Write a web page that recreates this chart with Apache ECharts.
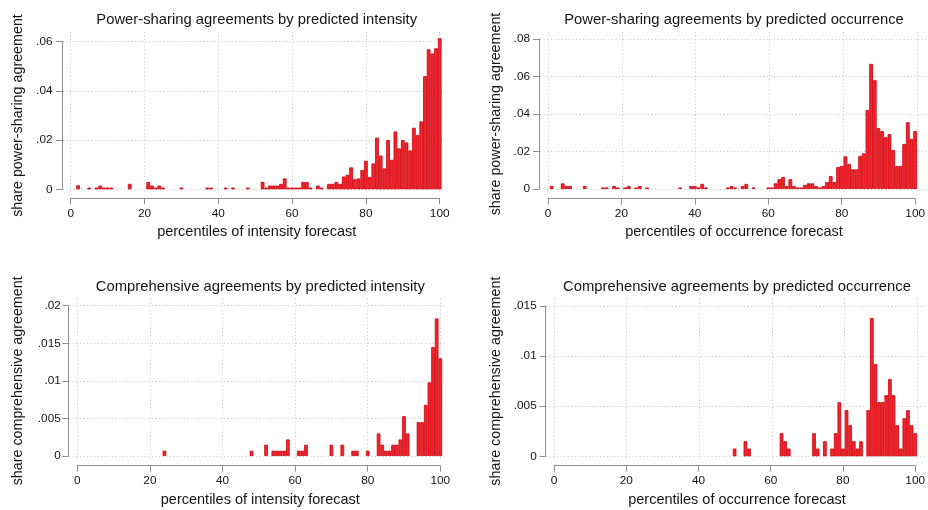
<!DOCTYPE html>
<html>
<head>
<meta charset="utf-8">
<script src="https://cdn.jsdelivr.net/npm/echarts@6/dist/echarts.min.js"></script>
<style>
  html, body { margin: 0; padding: 0; background: #ffffff; }
  #chart { width: 928px; height: 510px; }
</style>
</head>
<body>
<div id="chart"></div>
<script>
// ---- tick labels ----
const xTicks = [0, 20, 40, 60, 80, 100];
const yTicksPsInt = [0, 0.02, 0.04, 0.06];
const yTicksPsOcc = [0, 0.02, 0.04, 0.06, 0.08];
const yTicksCaInt = [0, 0.005, 0.01, 0.015, 0.02];
const yTicksCaOcc = [0, 0.005, 0.01, 0.015];

// ---- titles ----
const panelTitles = [
  'Power-sharing agreements by predicted intensity',
  'Power-sharing agreements by predicted occurrence',
  'Comprehensive agreements by predicted intensity',
  'Comprehensive agreements by predicted occurrence'
];
const xTitles = [
  'percentiles of intensity forecast',
  'percentiles of occurrence forecast',
  'percentiles of intensity forecast',
  'percentiles of occurrence forecast'
];
const yTitles = [
  'share power-sharing agreement',
  'share power-sharing agreement',
  'share comprehensive agreement',
  'share comprehensive agreement'
];

// ---- power-sharing agreements, by percentile of intensity forecast ----
const psIntPct = [2, 5, 7, 8, 9, 10, 11, 16, 21, 22, 23, 24, 25, 30, 37, 38, 42, 44, 48,
  52, 53, 54, 55, 56, 57, 58, 59, 60, 61, 62, 63, 64, 65, 67, 68, 70, 71, 72, 73, 74,
  75, 76, 77, 78, 79, 80, 81, 82, 83, 84, 85, 86, 87, 88, 89, 90, 91, 92, 93, 94, 95,
  96, 97, 98, 99, 100];
const psIntShare = [0.0016, 0.0007, 0.0007, 0.0015, 0.0007, 0.0007, 0.0007, 0.0022, 0.003,
  0.0015, 0.0007, 0.0015, 0.0007, 0.0007, 0.0007, 0.0007, 0.0007, 0.0007, 0.0007,
  0.003, 0.0007, 0.0015, 0.0015, 0.0015, 0.0022, 0.0044, 0.0007, 0.0007, 0.0007, 0.0007,
  0.003, 0.003, 0.0007, 0.0015, 0.0007, 0.0022, 0.0022, 0.003, 0.0022, 0.0052,
  0.0059, 0.0089, 0.0041, 0.0044, 0.0078, 0.0116, 0.005, 0.0105, 0.021, 0.0137, 0.0085,
  0.020, 0.012, 0.0235, 0.0166, 0.020, 0.019, 0.0158, 0.025, 0.022, 0.0276,
  0.046, 0.0569, 0.0552, 0.0573, 0.0614];

// ---- power-sharing agreements, by percentile of occurrence forecast ----
const psOccPct = [1, 4, 5, 6, 10, 15, 16, 18, 19, 21, 22, 24, 25, 27, 36, 39, 40, 41, 42, 43,
  49, 50, 51, 53, 54, 56, 60, 61, 62, 63, 64, 65, 66, 67, 68, 69, 70, 71, 72, 73, 74, 75,
  76, 77, 78, 79, 80, 81, 82, 83, 84, 85, 86, 87, 88, 89, 90, 91, 92, 93, 94, 95, 96, 97,
  98, 99, 100];
const psOccShare = [0.0016, 0.003, 0.0016, 0.0016, 0.0016, 0.0008, 0.0008, 0.0016, 0.0008,
  0.0008, 0.0016, 0.0008, 0.0016, 0.0008, 0.0008, 0.0016, 0.0016, 0.0008, 0.0027, 0.0008,
  0.0008, 0.0016, 0.0008, 0.0016, 0.0027, 0.0008, 0.0008, 0.0008, 0.003, 0.0052, 0.0064,
  0.0016, 0.0052, 0.0016, 0.0008, 0.0008, 0.0021, 0.003, 0.003, 0.0016, 0.0008, 0.0016,
  0.0037, 0.0069, 0.0037, 0.0117, 0.0123, 0.0174, 0.0133, 0.0105, 0.0105, 0.0176, 0.019,
  0.0421, 0.0667, 0.058, 0.0324, 0.0309, 0.0276, 0.0292, 0.0208, 0.0123, 0.0123, 0.024,
  0.0356, 0.0267, 0.0309];

// ---- comprehensive agreements, by percentile of intensity forecast ----
const caIntPct = [24, 48, 52, 54, 55, 56, 57, 58, 61, 62, 63, 70, 73, 76, 77, 80, 83, 84, 85,
  86, 87, 88, 89, 90, 91, 94, 95, 96, 97, 98, 99, 100];
const caIntShare = [0.0007, 0.0007, 0.0015, 0.0007, 0.0007, 0.0007, 0.0007, 0.0022, 0.0007,
  0.0007, 0.0015, 0.0015, 0.0015, 0.0007, 0.0007, 0.0007, 0.003, 0.0015, 0.0007, 0.0007,
  0.0015, 0.0015, 0.0022, 0.0053, 0.003, 0.0045, 0.0045, 0.0068, 0.0098, 0.0145, 0.0183,
  0.013];

// ---- comprehensive agreements, by percentile of occurrence forecast ----
const caOccPct = [50, 53, 54, 63, 64, 65, 72, 73, 75, 77, 78, 79, 80, 81, 82, 83, 84, 85, 87,
  88, 89, 90, 91, 92, 93, 94, 95, 96, 97, 98, 99, 100];
const caOccShare = [0.00077, 0.0015, 0.00077, 0.0023, 0.0015, 0.00077, 0.0023, 0.00077,
  0.0015, 0.00077, 0.0023, 0.0054, 0.00077, 0.0046, 0.0031, 0.0015, 0.00077, 0.0015,
  0.0046, 0.0138, 0.0092, 0.0054, 0.0054, 0.0061, 0.0077, 0.0061, 0.0031, 0.00077,
  0.0038, 0.0046, 0.0031, 0.0023];

// ---- panel geometry (pixels) ----
// box: pixel positions of the first/last x tick and the zero/top y tick
// axisX / axisY: where the offset axis lines sit
// region: extent of the dotted grid [left, top, right, bottom]
const panels = [
  { pct: psIntPct, share: psIntShare, yTicks: yTicksPsInt,
    x0: 70.7, x1: 439.7, y0: 189.3, y1: 41.7, axisY: 198.3, axisX: 62,
    region: [63, 32, 446, 193], titleY: 20, xTitleY: 232, yTitleX: 18, yLabelMargin: 9.5 },
  { pct: psOccPct, share: psOccShare, yTicks: yTicksPsOcc,
    x0: 548, x1: 917, y0: 189, y1: 39, axisY: 198.7, axisX: 539,
    region: [540, 32, 926, 193], titleY: 20, xTitleY: 232, yTitleX: 496, yLabelMargin: 9 },
  { pct: caIntPct, share: caIntShare, yTicks: yTicksCaInt,
    x0: 77.3, x1: 440.3, y0: 456, y1: 305.7, axisY: 465.7, axisX: 68.3,
    region: [69, 299, 446, 461], titleY: 287, xTitleY: 499.5, yTitleX: 18.5, yLabelMargin: 7.5 },
  { pct: caOccPct, share: caOccShare, yTicks: yTicksCaOcc,
    x0: 554, x1: 917, y0: 456.3, y1: 306, axisY: 465.7, axisX: 545.7,
    region: [546, 299, 926, 461], titleY: 287, xTitleY: 499.5, yTitleX: 496.5, yLabelMargin: 9 }
];

const FONT = '"Liberation Sans", Arial, Helvetica, sans-serif';
const TEXT = '#141414';
const AXIS = '#8f8f8f';
const BAR_FILL = '#f5242a';
const BAR_EDGE = '#c8000e';

function shareLabel(v) {
  if (Math.abs(v) < 1e-12) return '0';
  return String(+v.toFixed(4)).replace(/^0\./, '.');
}

const grid = [], xAxis = [], yAxis = [], series = [], graphic = [];

panels.forEach((p, i) => {
  const yMax = p.yTicks[p.yTicks.length - 1];
  const kx = (p.x1 - p.x0) / 100;          // px per percentile
  const ky = (p.y0 - p.y1) / yMax;         // px per unit share
  const [rl, rt, rr, rb] = p.region;

  // dotted background grid, same scale as the data grid but wider
  const gBg = grid.length;
  grid.push({ left: rl, top: rt, width: rr - rl, height: rb - rt, containLabel: false });
  xAxis.push({
    type: 'value', gridIndex: gBg,
    min: 0 - (p.x0 - rl) / kx, max: 100 + (rr - p.x1) / kx,
    axisLine: { show: false }, axisLabel: { show: false },
    axisTick: { show: false, customValues: xTicks },
    splitLine: { show: true, lineStyle: { color: '#c4c4c4', width: 1, type: [1, 2.6] } }
  });
  yAxis.push({
    type: 'value', gridIndex: gBg,
    min: 0 - (rb - p.y0) / ky, max: yMax + (p.y1 - rt) / ky,
    axisLine: { show: false }, axisLabel: { show: false },
    axisTick: { show: false, customValues: p.yTicks },
    splitLine: { show: true, lineStyle: { color: '#c4c4c4', width: 1, type: [1, 2.6] } }
  });

  // data grid spanning exactly the tick range, with offset axes
  const gData = grid.length;
  grid.push({ left: p.x0, top: p.y1, width: p.x1 - p.x0, height: p.y0 - p.y1, containLabel: false });
  xAxis.push({
    type: 'value', gridIndex: gData, min: 0, max: 100, position: 'bottom',
    offset: p.axisY - p.y0,
    axisLine: { show: true, onZero: false, lineStyle: { color: AXIS, width: 1 } },
    axisTick: { show: true, length: 6, customValues: xTicks, lineStyle: { color: AXIS, width: 1 } },
    axisLabel: { customValues: xTicks, margin: 9, fontSize: 11.8, color: TEXT, fontFamily: FONT },
    splitLine: { show: false }
  });
  yAxis.push({
    type: 'value', gridIndex: gData, min: 0, max: yMax, position: 'left',
    offset: p.x0 - p.axisX,
    axisLine: { show: true, onZero: false, lineStyle: { color: AXIS, width: 1 } },
    axisTick: { show: true, length: 6, customValues: p.yTicks, lineStyle: { color: AXIS, width: 1 } },
    axisLabel: { customValues: p.yTicks, margin: p.yLabelMargin, fontSize: 11.8, color: TEXT,
      fontFamily: FONT, formatter: shareLabel },
    splitLine: { show: false }
  });

  series.push({
    type: 'bar', xAxisIndex: xAxis.length - 1, yAxisIndex: yAxis.length - 1,
    data: p.pct.map((pc, j) => [pc, p.share[j]]),
    barWidth: kx, clip: false, silent: true,
    itemStyle: { color: BAR_FILL, borderColor: BAR_EDGE, borderWidth: 0.8 }
  });

  const cx = (p.x0 + p.x1) / 2;
  graphic.push({
    type: 'text', x: cx + 1.5, y: p.titleY, silent: true,
    style: { text: panelTitles[i], fontSize: 14.8, fill: TEXT, fontFamily: FONT,
      textAlign: 'center', textVerticalAlign: 'middle' }
  });
  graphic.push({
    type: 'text', x: cx + 1.5, y: p.xTitleY, silent: true,
    style: { text: xTitles[i], fontSize: 14.5, fill: TEXT, fontFamily: FONT,
      textAlign: 'center', textVerticalAlign: 'middle' }
  });
  graphic.push({
    type: 'text', x: p.yTitleX, y: (p.y0 + p.y1) / 2, rotation: Math.PI / 2, silent: true,
    style: { text: yTitles[i], fontSize: 14.3, fill: TEXT, fontFamily: FONT,
      textAlign: 'center', textVerticalAlign: 'middle' }
  });
});

const chart = echarts.init(document.getElementById('chart'), null, { renderer: 'canvas' });
chart.setOption({
  backgroundColor: '#ffffff',
  animation: false,
  grid, xAxis, yAxis, series, graphic
});
</script>
</body>
</html>
